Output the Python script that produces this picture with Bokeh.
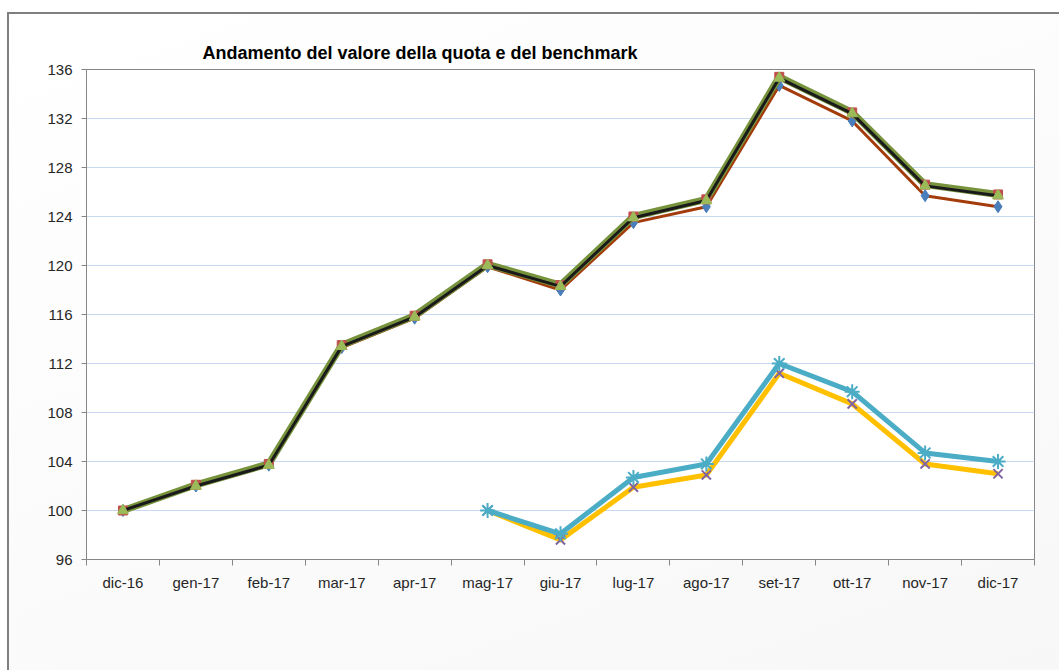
import numpy as np
from bokeh.plotting import figure
from bokeh.models import ColumnDataSource, Range1d, FixedTicker, Legend, LegendItem
from bokeh.embed import file_html
from bokeh.resources import INLINE

categories = ["dic-16", "gen-17", "feb-17", "mar-17", "apr-17", "mag-17", "giu-17",
              "lug-17", "ago-17", "set-17", "ott-17", "nov-17", "dic-17"]
quote_a1 = [100.0, 102.0, 103.7, 113.3, 115.7, 119.9, 118.0, 123.5, 124.8, 134.7, 131.8, 125.7, 124.8]
quote_a2 = [100.0, 102.1, 103.8, 113.5, 115.9, 120.1, 118.4, 124.0, 125.4, 135.4, 132.5, 126.6, 125.8]
quote_q2 = [100.0, 102.0, 103.7, 113.4, 115.8, 120.0, 118.3, 123.9, 125.3, 135.3, 132.4, 126.5, 125.7]
quote_p1 = [None, None, None, None, None, 100.0, 97.6, 101.9, 102.9, 111.2, 108.7, 103.8, 103.0]
quote_p2 = [None, None, None, None, None, 100.0, 98.1, 102.7, 103.8, 112.0, 109.7, 104.7, 104.0]
series_names = ["Quote Classe A1", "Quote Classe A2", "Quote Classe Q2", "Quote Classe P1", "Quote Classe P2"]
y_ticks = [96, 100, 104, 108, 112, 116, 120, 124, 128, 132, 136]
title_text = "Andamento del valore della quota e del benchmark"


def clean(v):
    return [np.nan if x is None else x for x in v]


xs = list(range(1, len(categories) + 1))
src = ColumnDataSource(dict(
    x=xs, a1=clean(quote_a1), a2=clean(quote_a2), q2=clean(quote_q2),
    p1=clean(quote_p1), p2=clean(quote_p2)))

p = figure(frame_width=948, frame_height=490, output_backend="svg", toolbar_location=None,
           x_range=Range1d(0.5, len(categories) + 0.5), y_range=Range1d(96, 136),
           min_border_left=77, min_border_right=23, min_border_top=55, min_border_bottom=0)
p.styles = {
    "margin-top": "12px",
    "margin-left": "7px",
    "padding-right": "2px",
    "padding-bottom": "10px",
    "border-top": "2px solid #7f7f7f",
    "border-left": "2px solid #7f7f7f",
    "background": "linear-gradient(160deg, #ffffff 0%, #f7f7f7 55%, #eeeeee 100%)",
}
p.border_fill_color = None
p.background_fill_color = "white"
p.outline_line_color = "#868686"
p.outline_line_width = 1

# title
p.title.text = title_text
p.title.text_font = "Liberation Sans"
p.title.text_font_style = "bold"
p.title.text_font_size = "18px"
p.title.text_color = "#000000"
p.title.align = "left"
p.title.offset = 116
p.title.standoff = 14

# axes
tick_font = "Liberation Sans"
p.xaxis.ticker = FixedTicker(ticks=xs, minor_ticks=[i + 0.5 for i in range(len(categories) + 1)])
p.xaxis.major_label_overrides = {x: c for x, c in zip(xs, categories)}
p.xaxis.major_tick_line_color = None
p.xaxis.major_tick_out = 5
p.xaxis.major_tick_in = 0
p.xaxis.minor_tick_out = 6
p.xaxis.minor_tick_in = 0
p.xaxis.minor_tick_line_color = "#868686"
p.xaxis.major_label_standoff = 8
p.yaxis.ticker = FixedTicker(ticks=y_ticks)
p.yaxis.minor_tick_line_color = None
p.yaxis.major_tick_out = 5
p.yaxis.major_tick_in = 0
p.yaxis.major_tick_line_color = "#868686"
p.yaxis.major_label_standoff = 9
for ax in (p.xaxis[0], p.yaxis[0]):
    ax.axis_line_color = "#868686"
    ax.major_label_text_font = tick_font
    ax.major_label_text_font_size = "15px"
    ax.major_label_text_color = "#262626"
p.xgrid.visible = False
p.ygrid.grid_line_color = "#C6D9F1"
p.ygrid.grid_line_width = 1

# series
r_a1l = p.line("x", "a1", source=src, line_color="#A33C0A", line_width=3, line_join="round")
r_a1m = p.scatter("x", "a1", source=src, marker="diamond", size=12, fill_color="#4A7EBB", line_color="#4A7EBB")
r_a2l = p.line("x", "a2", source=src, line_color="#77933C", line_width=7, line_join="round", line_cap="round")
r_a2m = p.scatter("x", "a2", source=src, marker="square", size=9, fill_color="#C0504D", line_color="#C0504D")
r_q2l = p.line("x", "q2", source=src, line_color="#1A1A1A", line_width=3, line_join="round")
r_q2m = p.scatter("x", "q2", source=src, marker="triangle", size=11, fill_color="#9BBB59", line_color="#9BBB59")
r_p1l = p.line("x", "p1", source=src, line_color="#FFC000", line_width=5, line_join="round")
r_p1m = p.scatter("x", "p1", source=src, marker="x", size=13, line_color="#8064A2", line_width=2)
r_p2l = p.line("x", "p2", source=src, line_color="#4BACC6", line_width=5, line_join="round")
r_p2m = p.scatter("x", "p2", source=src, marker="asterisk", size=15, line_color="#4BACC6", line_width=2)

# trailing no-break spaces on the last column widen it so the centred legend sits left as in the reference
pad = "\u00a0" * 6
legend = Legend(items=[
    LegendItem(label=series_names[0], renderers=[r_a1l, r_a1m]),
    LegendItem(label=series_names[1], renderers=[r_a2l, r_a2m]),
    LegendItem(label=series_names[2] + pad, renderers=[r_q2l, r_q2m]),
    LegendItem(label=series_names[3], renderers=[r_p1l, r_p1m]),
    LegendItem(label=series_names[4], renderers=[r_p2l, r_p2m]),
], location="top_center", orientation="horizontal", ncols=3)
legend.glyph_width = 46
legend.glyph_height = 30
legend.label_height = 30
legend.label_standoff = 4
legend.spacing = 10
legend.padding = 0
legend.margin = 0
legend.background_fill_alpha = 0
legend.border_line_alpha = 0
legend.label_text_font = "Lato"
legend.label_text_font_size = "20px"
legend.label_text_color = "#1a1a1a"
p.add_layout(legend, "below")

open("out.html", "w").write(file_html(p, INLINE))
